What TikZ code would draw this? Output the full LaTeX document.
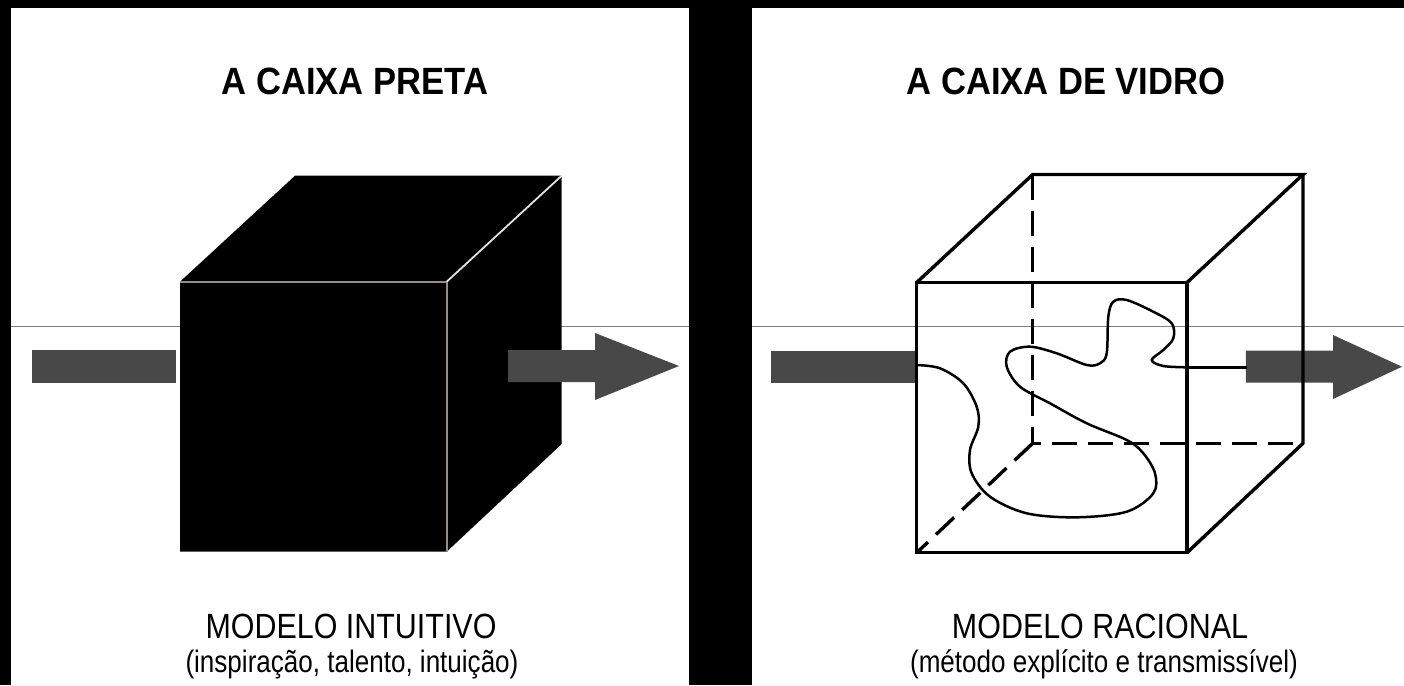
\documentclass[tikz,border=0pt]{standalone}
\usepackage{fontspec}
\newfontfamily\lblfont[FakeStretch=0.91]{Liberation Sans}
\newfontfamily\lineAfont[FakeStretch=0.87]{Liberation Sans}
\newfontfamily\lineBfont[FakeStretch=0.84]{Liberation Sans}
\definecolor{arrowgray}{HTML}{484848}
\definecolor{ruleline}{HTML}{808080}
\definecolor{edgegray}{HTML}{968C8C}
\definecolor{edgelight}{HTML}{E6E0E0}
\tikzset{
  panel/.style={fill=white, draw=none},
  fatarrow/.style={fill=arrowgray, draw=none},
  glassedge/.style={draw=black, line width=3.4pt, line join=miter},
  hiddenedge/.style={draw=black, line width=3.4pt, dash pattern=on 25pt off 11pt},
  flow/.style={draw=black, line width=2.5pt},
  titletext/.style={anchor=base, inner sep=0pt, font=\lblfont\bfseries\fontsize{38}{46}\selectfont},
  modeltext/.style={anchor=base, inner sep=0pt, font=\lineAfont\fontsize{35}{42}\selectfont},
  desctext/.style={anchor=base, inner sep=0pt, font=\lineBfont\fontsize{31}{38}\selectfont},
}
\begin{document}
\begin{tikzpicture}[x=1pt, y=-1pt]
\useasboundingbox (0,0) rectangle (1404,685);
\fill[black] (0,0) rectangle (1404,685);
% panels
\fill[panel] (11,8) rectangle (689,685);
\fill[panel] (752,8) rectangle (1404,685);
% thin gray horizontal rule
\draw[ruleline, line width=1.5pt] (11,326.5) -- (689,326.5);
\draw[ruleline, line width=1.5pt] (752,326.5) -- (1404,326.5);

% ---------- LEFT: black box ----------
\coordinate (bFTL) at (180,281.7);
\coordinate (bFTR) at (446.7,281.7);
\coordinate (bFBR) at (446.7,551.7);
\coordinate (bFBL) at (180,551.7);
\coordinate (bBTL) at (295,175.7);
\coordinate (bBTR) at (561.7,175.7);
\coordinate (bBBR) at (561.7,444);
\fill[black] (bFTL) -- (bBTL) -- (bBTR) -- (bBBR) -- (bFBR) -- (bFBL) -- cycle;
\draw[edgegray, line width=2.2pt] (bFTL) -- (bFTR) -- (bFBR);
\draw[edgelight, line width=1.8pt] (bFTR) -- (bBTR);
% arrows
\fill[fatarrow] (32,350) rectangle (176,382.7);
\fill[fatarrow] (508,350) -- (595,350) -- (595,333) -- (679,366) -- (595,400) -- (595,382) -- (508,382) -- cycle;

% ---------- RIGHT: glass box ----------
\coordinate (gFTL) at (916.7,282.5);
\coordinate (gFTR) at (1187,282.5);
\coordinate (gFBR) at (1187,552.7);
\coordinate (gFBL) at (916.7,552.7);
\coordinate (gBTL) at (1032.7,174.5);
\coordinate (gBTR) at (1303,174.5);
\coordinate (gBBR) at (1303,443.3);
\coordinate (gBBL) at (1032.7,443.3);
% hidden edges
\draw[hiddenedge] (gBTL) -- (gBBL) -- (gBBR);
\draw[hiddenedge] (gBBL) -- (gFBL);
% arrows
\fill[fatarrow] (770.8,350.7) rectangle (914.6,382.7);
\fill[fatarrow] (1245.8,350.7) -- (1333,350.7) -- (1333,335) -- (1402,366.7) -- (1333,399) -- (1333,382.7) -- (1245.8,382.7) -- cycle;
% the process path
\draw[flow, line join=round] plot[smooth, tension=0.55] coordinates {
 (916.7,365) (940,368.3) (963.3,383.3) (976.7,406.7) (978.3,426.7)
 (970,450) (971.7,473.3) (990,496.7) (1026.7,513.3) (1076.7,517.3)
 (1126.7,511.7) (1153.3,493.3) (1155,473.3) (1143.3,453.3) (1126.7,440)
 (1086.7,423.3) (1050,403.3) (1020,386.7) (1006.7,366.7) (1010,351.7)
 (1030,346.7) (1056.7,353.3) (1086.7,365) (1100,363.3) (1106.7,353.3)
 (1108.3,316.7) (1113.3,301.7) (1126.7,300) (1153.3,311.7) (1171.7,323.3)
 (1173.3,338.3) (1163.3,350) (1151.7,360) (1163.3,366) (1186.7,367.3)};
\draw[flow] (1186.7,367.3) -- (1246.7,367.3);
% visible edges
\draw[glassedge] (gFTL) rectangle (gFBR);
\draw[glassedge] (gFTL) -- (gBTL) -- (gBTR) -- (gFTR);
\draw[glassedge] (gBTR) -- (gBBR) -- (gFBR);

% ---------- texts ----------
\node[titletext] (t1) at (355,94.5) {A CAIXA PRETA};
\node[titletext] (t2) at (1066,94.5) {A CAIXA DE VIDRO};
\node[modeltext] (m1) at (351,638) {MODELO INTUITIVO};
\node[desctext] (d1) at (352,672) {(inspiração, talento, intuição)};
\node[modeltext] (m2) at (1100,638) {MODELO RACIONAL};
\node[desctext] (d2) at (1104,672) {(método explícito e transmissível)};
\end{tikzpicture}
\end{document}
